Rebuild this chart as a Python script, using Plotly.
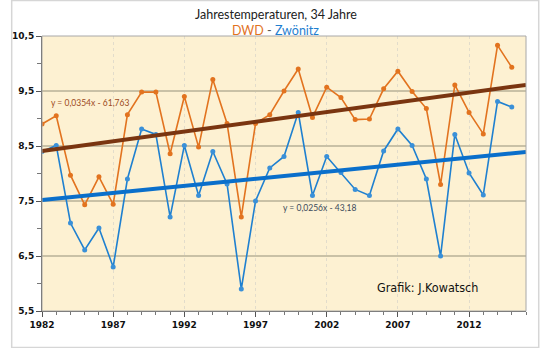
import numpy as np
import plotly.graph_objects as go

years = list(range(1982, 2016))
dwd = [8.90, 9.05, 7.97, 7.43, 7.94, 7.44, 9.07, 9.48, 9.48, 8.36,
       9.40, 8.48, 9.71, 8.91, 7.21, 8.91, 9.07, 9.50, 9.90, 9.02,
       9.57, 9.38, 8.98, 8.99, 9.54, 9.86, 9.49, 9.18, 7.80, 9.61,
       9.11, 8.72, 10.33, 9.93]
zwoenitz = [8.40, 8.51, 7.10, 6.61, 7.01, 6.30, 7.90, 8.81, 8.71, 7.21,
            8.51, 7.60, 8.40, 7.81, 5.90, 7.50, 8.10, 8.31, 9.11, 7.60,
            8.31, 8.02, 7.71, 7.60, 8.41, 8.81, 8.51, 7.90, 6.50, 8.71,
            8.01, 7.61, 9.31, 9.21]
x_range = [1982, 2016]
y_range = [5.5, 10.5]
y_ticks = [5.5, 6.5, 7.5, 8.5, 9.5, 10.5]
y_ticktext = ["5,5", "6,5", "7,5", "8,5", "9,5", "10,5"]
x_ticks = [1982, 1987, 1992, 1997, 2002, 2007, 2012]
eq_dwd = "y = 0,0354x - 61,763"
eq_zw = "y = 0,0256x - 43,18"

c_dwd = "#e2731f"
c_zw = "#1f80d0"
c_tr_dwd = "#7a3510"
c_tr_zw = "#0a6fcb"

fig = go.Figure()

fig.add_trace(go.Scatter(x=years, y=dwd, mode="lines+markers",
                         line=dict(color=c_dwd, width=1.6),
                         marker=dict(color=c_dwd, size=5)))
fig.add_trace(go.Scatter(x=years, y=zwoenitz, mode="lines+markers",
                         line=dict(color=c_zw, width=1.6),
                         marker=dict(color="#3a90d8", size=5)))

tx = np.array(x_range, dtype=float)
for data, col in [(dwd, c_tr_dwd), (zwoenitz, c_tr_zw)]:
    k, d = np.polyfit(years, data, 1)
    fig.add_trace(go.Scatter(x=tx, y=k * tx + d, mode="lines",
                             line=dict(color=col, width=4), hoverinfo="skip"))

fig.update_layout(
    width=540, height=348,
    margin=dict(l=31, r=14, t=36, b=37),
    paper_bgcolor="white",
    plot_bgcolor="#fdf1d2",
    showlegend=False,
    font=dict(family="Lato, Open Sans, sans-serif", color="#222"),
)

fig.update_xaxes(
    range=x_range, tickvals=x_ticks, ticktext=[str(v) for v in x_ticks],
    showgrid=True, gridcolor="#e2dccb", griddash="dot", gridwidth=1,
    showline=True, linecolor="#555", linewidth=1,
    ticks="outside", ticklen=5, tickcolor="#555",
    minor=dict(dtick=1, tick0=1982, ticks="outside", ticklen=3, tickcolor="#777", showgrid=False),
    tickfont=dict(family="DejaVu Sans", size=9, color="#111", weight="bold"),
    zeroline=False,
)
fig.update_yaxes(
    range=y_range, tickvals=y_ticks, ticktext=y_ticktext,
    showgrid=True, gridcolor="#c9c1a6", gridwidth=1.5,
    showline=True, linecolor="#555", linewidth=1,
    ticks="outside", ticklen=5, tickcolor="#555",
    minor=dict(dtick=0.5, tick0=5.5, ticks="outside", ticklen=4, tickcolor="#777", showgrid=False),
    tickfont=dict(family="DejaVu Sans", size=9, color="#111", weight="bold"),
    zeroline=False,
)

# plot area border
fig.add_shape(type="rect", xref="paper", yref="paper", x0=0, y0=0, x1=1, y1=1,
              line=dict(color="#a8a8a8", width=1), layer="above")
# outer frame
fig.add_shape(type="rect", xref="paper", yref="paper",
              x0=-31/495, x1=1+13/495, y0=-36.5/275, y1=1+35.5/275,
              line=dict(color="#d6d6d6", width=1.5), layer="above")

fig.add_annotation(xref="paper", yref="paper", x=239/495, y=1+21/275,
                   text="Jahrestemperaturen, 34 Jahre", showarrow=False,
                   font=dict(family="Lato, Open Sans", size=12.5, color="#222"),
                   xanchor="center", yanchor="middle")
fig.add_annotation(xref="paper", yref="paper", x=239/495, y=1+6/275,
                   text=f"<span style='color:{c_dwd}'>DWD</span> - <span style='color:{c_zw}'>Zwönitz</span>",
                   showarrow=False,
                   font=dict(family="Lato, Open Sans", size=12.5, color="#555"),
                   xanchor="center", yanchor="middle")
fig.add_annotation(x=1985.4, y=9.28, text=eq_dwd, showarrow=False,
                   font=dict(family="Lato, Open Sans", size=8.5, color="#9c4a1c"),
                   xanchor="center", yanchor="middle")
fig.add_annotation(x=2001.5, y=7.365, text=eq_zw, showarrow=False,
                   font=dict(family="Lato, Open Sans", size=8.5, color="#3b4a5a"),
                   xanchor="center", yanchor="middle")
fig.add_annotation(x=2009.05, y=5.92, text="Grafik: J.Kowatsch", showarrow=False,
                   font=dict(family="DejaVu Sans Condensed, Liberation Sans", size=12.5, color="#111"),
                   xanchor="center", yanchor="middle")

fig.write_html("out.html")
